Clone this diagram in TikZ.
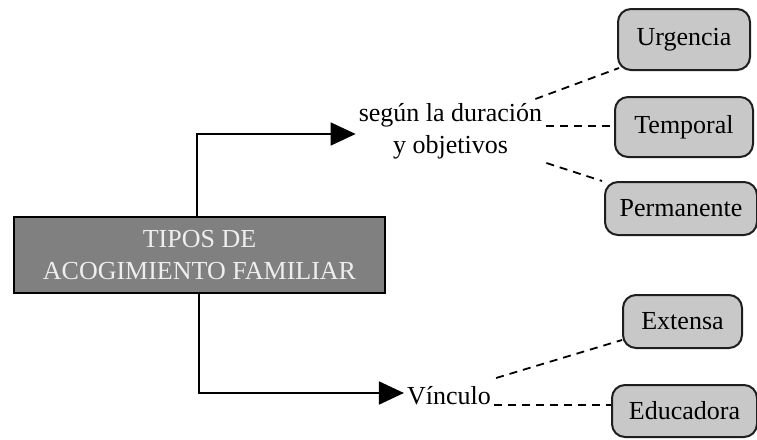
\documentclass[tikz,border=0pt]{standalone}
\usepackage{fontspec}
\setmainfont{Liberation Serif}
\usetikzlibrary{arrows.meta,calc}
\definecolor{mainfill}{HTML}{808080}
\definecolor{mainfont}{HTML}{EEEEEE}
\definecolor{leaffill}{HTML}{C8C8C8}
\definecolor{leafline}{HTML}{1E1E1E}
\tikzset{
  txt/.style={font=\fontsize{26}{32}\selectfont, inner sep=0pt, align=center},
  mainbox/.style={txt, draw=black, line width=2.5pt, fill=mainfill, text=mainfont,
    minimum width=371pt, minimum height=76pt},
  leaf/.style={txt, draw=leafline, line width=2pt, fill=leaffill, rounded corners=13pt},
  conn/.style={line width=1.8pt, draw=black},
  arr/.style={conn, -{Triangle[length=25pt,width=23pt]}},
  dsh/.style={conn, line width=1.8pt, dash pattern=on 8pt off 6pt}
}
\begin{document}
\begin{tikzpicture}[x=1pt,y=-1pt]
\useasboundingbox (0,0) rectangle (757,439);
\node[mainbox] (main) at (199.5,255) {TIPOS DE\\ACOGIMIENTO FAMILIAR};
\node[txt] (sel) at (450.5,131) {según la duración\\y objetivos};
\node[txt] (vin) at (449,396) {Vínculo};
\node[leaf, minimum width=132pt, minimum height=61pt] (urg) at (684,39.5) {Urgencia};
\node[leaf, minimum width=138pt, minimum height=60pt] (tem) at (684,127) {Temporal};
\node[leaf, minimum width=152pt, minimum height=53pt] (per) at (681,208.5) {Permanente};
\node[leaf, minimum width=119pt, minimum height=53pt] (ext) at (682.5,321.5) {Extensa};
\node[leaf, minimum width=145pt, minimum height=52pt] (edu) at (684.5,411) {Educadora};
% arrows
\coordinate (c1) at (197,134);
\coordinate (c1t) at ($(sel.west)+(-3,0)$);
\draw[arr] (main.north -| c1) |- (c1t |- c1);
\coordinate (c2) at (199,393);
\coordinate (c2t) at ($(vin.west)+(-3,0)$);
\draw[arr] (main.south -| c2) |- (c2t |- c2);
% dashed links
\draw[dsh] ($(sel.east)+(-7,-32)$) -- ($(urg.south west)+(2,-3)$);
\draw[dsh] ($(sel.east)+(4,-5)$) -- (tem.west |- {$(sel.east)+(4,-5)$});
\draw[dsh] ($(sel.east)+(4,32)$) -- ($(per.north west)+(-2,0)$);
\draw[dsh] ($(vin.east)+(5,-18)$) -- ($(ext.south west)+(0,-9)$);
\draw[dsh] ($(vin.east)+(3,9)$) -- (edu.west |- {$(vin.east)+(3,9)$});
\end{tikzpicture}
\end{document}
